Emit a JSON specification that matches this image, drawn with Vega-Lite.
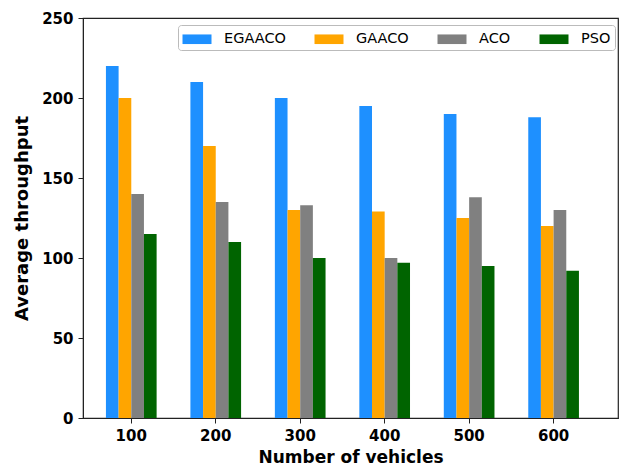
{
  "$schema": "https://vega.github.io/schema/vega-lite/v6.json",
  "width": 535,
  "height": 400,
  "autosize": "none",
  "padding": {"left": 83, "top": 18, "right": 6, "bottom": 53},
  "background": "white",
  "config": {
    "font": "DejaVu Sans",
    "view": {"stroke": "#222222", "strokeWidth": 1.2},
    "axis": {
      "domainColor": "#222222",
      "tickColor": "#222222",
      "grid": false,
      "labelFont": "DejaVu Sans",
      "labelFontWeight": "bold",
      "labelFontSize": 15,
      "labelColor": "black",
      "titleFont": "DejaVu Sans",
      "titleFontWeight": "bold",
      "titleColor": "black",
      "tickSize": 5,
      "labelPadding": 5
    }
  },
  "data": {
    "values": [
      {"vehicles": "100", "algorithm": "EGAACO", "throughput": 220},
      {"vehicles": "100", "algorithm": "GAACO", "throughput": 200},
      {"vehicles": "100", "algorithm": "ACO", "throughput": 140},
      {"vehicles": "100", "algorithm": "PSO", "throughput": 115},
      {"vehicles": "200", "algorithm": "EGAACO", "throughput": 210},
      {"vehicles": "200", "algorithm": "GAACO", "throughput": 170},
      {"vehicles": "200", "algorithm": "ACO", "throughput": 135},
      {"vehicles": "200", "algorithm": "PSO", "throughput": 110},
      {"vehicles": "300", "algorithm": "EGAACO", "throughput": 200},
      {"vehicles": "300", "algorithm": "GAACO", "throughput": 130},
      {"vehicles": "300", "algorithm": "ACO", "throughput": 133},
      {"vehicles": "300", "algorithm": "PSO", "throughput": 100},
      {"vehicles": "400", "algorithm": "EGAACO", "throughput": 195},
      {"vehicles": "400", "algorithm": "GAACO", "throughput": 129},
      {"vehicles": "400", "algorithm": "ACO", "throughput": 100},
      {"vehicles": "400", "algorithm": "PSO", "throughput": 97},
      {"vehicles": "500", "algorithm": "EGAACO", "throughput": 190},
      {"vehicles": "500", "algorithm": "GAACO", "throughput": 125},
      {"vehicles": "500", "algorithm": "ACO", "throughput": 138},
      {"vehicles": "500", "algorithm": "PSO", "throughput": 95},
      {"vehicles": "600", "algorithm": "EGAACO", "throughput": 188},
      {"vehicles": "600", "algorithm": "GAACO", "throughput": 120},
      {"vehicles": "600", "algorithm": "ACO", "throughput": 130},
      {"vehicles": "600", "algorithm": "PSO", "throughput": 92}
    ]
  },
  "mark": {"type": "bar"},
  "encoding": {
    "x": {
      "field": "vehicles",
      "type": "ordinal",
      "scale": {"paddingInner": 0.4, "paddingOuter": 0.367, "align": 0.37},
      "axis": {"title": "Number of vehicles", "titleFontSize": 17, "labelAngle": 0, "titlePadding": 6}
    },
    "xOffset": {
      "field": "algorithm",
      "sort": ["EGAACO", "GAACO", "ACO", "PSO"],
      "scale": {"paddingInner": 0}
    },
    "y": {
      "field": "throughput",
      "type": "quantitative",
      "scale": {"domain": [0, 250], "nice": false},
      "axis": {"title": "Average throughput", "titleFontSize": 18, "values": [0, 50, 100, 150, 200, 250], "titlePadding": 10}
    },
    "color": {
      "field": "algorithm",
      "type": "nominal",
      "sort": ["EGAACO", "GAACO", "ACO", "PSO"],
      "scale": {
        "domain": ["EGAACO", "GAACO", "ACO", "PSO"],
        "range": ["#1E90FF", "#FFA500", "#808080", "#006400"]
      },
      "legend": {
        "title": null,
        "orient": "none",
        "legendX": 95,
        "legendY": 7,
        "direction": "horizontal",
        "columns": 4,
        "fillColor": "white",
        "strokeColor": "#bbbbbb",
        "cornerRadius": 3,
        "padding": 4,
        "symbolType": "M-1.45,-0.48H1.45V0.48H-1.45Z",
        "symbolSize": 400,
        "symbolStrokeWidth": 0,
        "symbolOffset": 5,
        "labelOffset": 17,
        "labelFont": "DejaVu Sans",
        "labelFontSize": 14.5,
        "labelColor": "black",
        "columnPadding": 28
      }
    }
  }
}
